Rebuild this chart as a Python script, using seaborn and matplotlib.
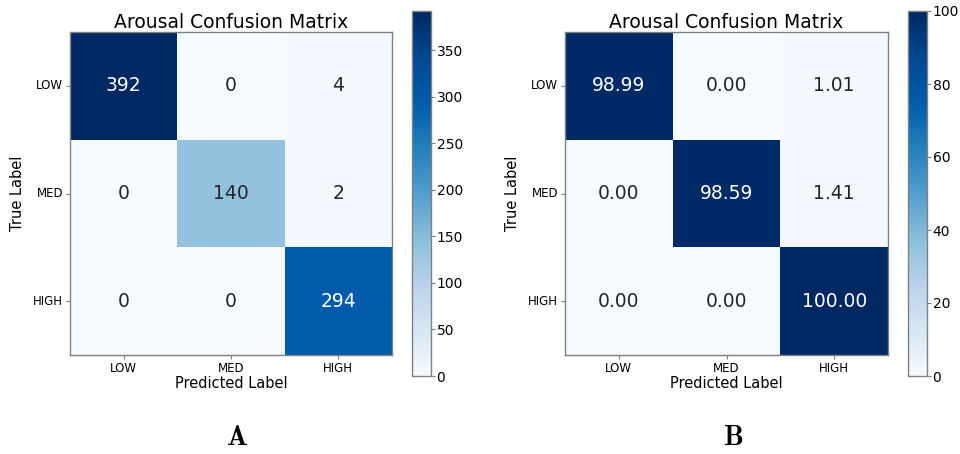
import numpy as np
import pandas as pd
import matplotlib
matplotlib.use("Agg")
import matplotlib.pyplot as plt
from matplotlib.colors import ListedColormap, rgb_to_hsv, hsv_to_rgb
import seaborn as sns

plt.rcParams["mathtext.fontset"] = "cm"
plt.rcParams["font.family"] = ["DejaVu Sans"]

classes = ["LOW", "MED", "HIGH"]
counts = [[392, 0, 4],
          [0, 140, 2],
          [0, 0, 294]]
percents = [[98.99, 0.00, 1.01],
            [0.00, 98.59, 1.41],
            [0.00, 0.00, 100.00]]
title = "Arousal Confusion Matrix"
panel_tags = ["A", "B"]

# A more saturated variant of the Blues colormap
t = np.linspace(0, 1, 256)
base = plt.get_cmap("Blues")(t)[:, :3]
hsv = rgb_to_hsv(base)
hsv[:, 1] = np.clip(hsv[:, 1] * 1.22, 0, 1)
hsv[:, 2] = hsv[:, 2] * (1 - 0.08 * t)
vivid_blues = ListedColormap(hsv_to_rgb(hsv), name="vivid_blues")

fig = plt.figure(figsize=(9.6, 4.54), dpi=100)
W, H = 960, 454


def px_axes(x0, y0, x1, y1):
    return fig.add_axes([x0 / W, 1 - y1 / H, (x1 - x0) / W, (y1 - y0) / H])


panels = [
    dict(data=counts, fmt="d", vmax=max(max(r) for r in counts),
         ticks=np.arange(0, 351, 50), hm=(70, 32, 392, 355), cb=(412, 11, 431, 376),
         tag_x=237),
    dict(data=percents, fmt=".2f", vmax=100,
         ticks=np.arange(0, 101, 20), hm=(565, 32, 888, 355), cb=(908, 11, 927, 376),
         tag_x=733),
]

edge = "#808080"
for p, tag in zip(panels, panel_tags):
    ax = px_axes(*p["hm"])
    cax = px_axes(*p["cb"])
    df = pd.DataFrame(p["data"], index=classes, columns=classes)
    sns.heatmap(df, ax=ax, cbar_ax=cax, cmap=vivid_blues, vmin=0, vmax=p["vmax"],
                annot=True, fmt=p["fmt"], annot_kws={"fontsize": 13.5},
                cbar_kws={"ticks": p["ticks"]})
    ax.set_title(title, fontsize=13.5, pad=3)
    ax.set_xlabel("Predicted Label", fontsize=10.5, labelpad=1)
    ax.set_ylabel("True Label", fontsize=10.5, labelpad=6)
    ax.tick_params(axis="x", labelsize=8.5, length=3, color=edge, rotation=0, pad=2)
    ax.tick_params(axis="y", labelsize=8.5, length=3, color=edge, rotation=0, pad=2)
    for s in ax.spines.values():
        s.set_visible(True)
        s.set_color(edge)
        s.set_linewidth(1.0)
    cb = ax.collections[0].colorbar
    cb.outline.set_linewidth(1.0)
    cb.outline.set_edgecolor(edge)
    cax.tick_params(labelsize=10, length=3, color=edge, pad=1)
    fig.text(p["tag_x"] / W, 1 - 437 / H, r"$\mathbf{%s}$" % tag,
             ha="center", va="center", fontsize=20)

fig.savefig("out.png", dpi=100)
